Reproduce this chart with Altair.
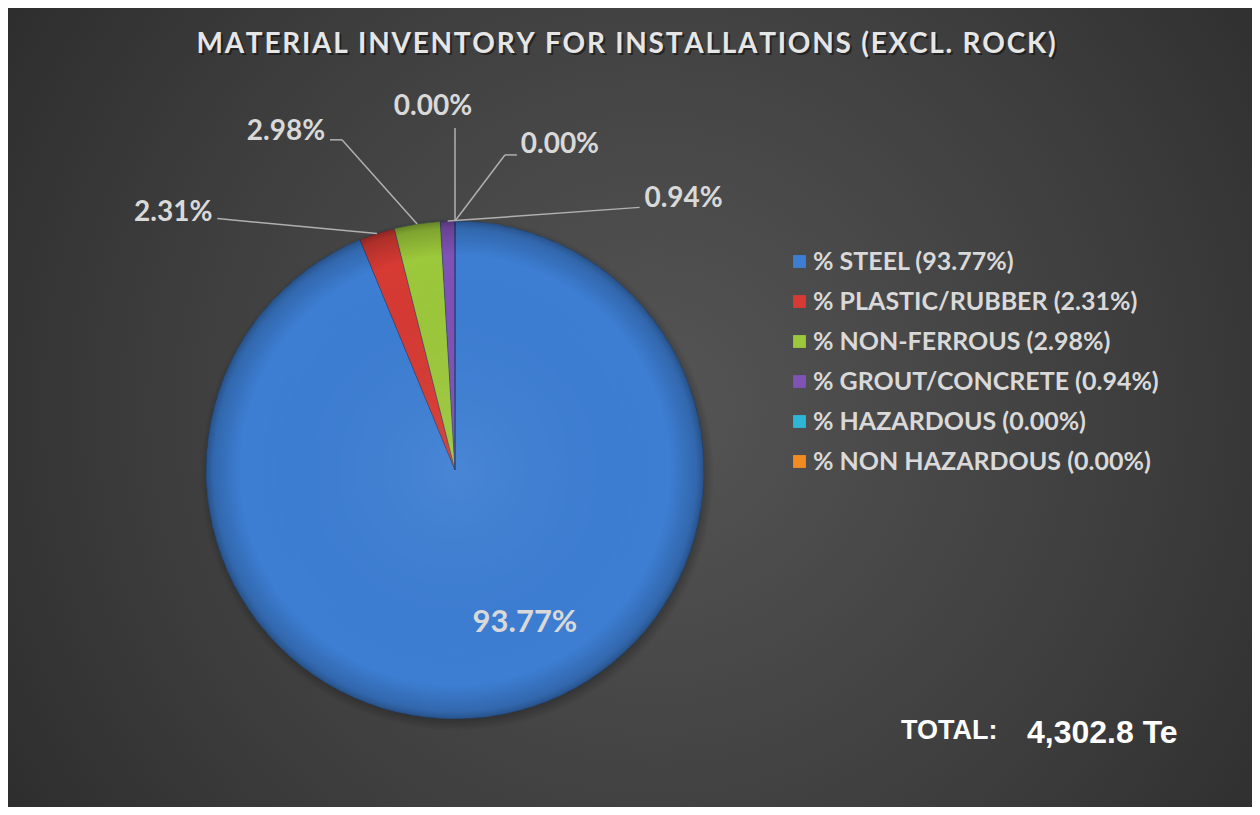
import altair as alt
import pandas as pd

# ---------------- data ----------------
categories = ["% STEEL", "% PLASTIC/RUBBER", "% NON-FERROUS", "% GROUT/CONCRETE", "% HAZARDOUS", "% NON HAZARDOUS"]
percentages = [93.77, 2.31, 2.98, 0.94, 0.00, 0.00]
total_tonnes = 4302.8
title_text = "MATERIAL INVENTORY FOR INSTALLATIONS (EXCL. ROCK)"

# ---------------- style / layout ----------------
slice_colors = ["#3d7ed3", "#d63a33", "#9cc83b", "#7f52b5", "#2db6d6", "#f28c22"]
W, H = 1244, 799
CX, CY, R = 447, 462, 249
# label placement (polar, degrees clockwise from 12 o'clock) - Excel style spread
label_angle = [155.4, -43.4, -18.9, 35.1, 0.0, 9.0]
label_radius = [168, 346, 349, 321, 342, 319]
label_stub = [0, 0, -12, 0, 0, 12]
label_tdx = [0, -44, -44, 44, -22, 43]
label_tdy = [0, -6, -8, -8, -21, -10]
label_line = [False, True, True, True, True, True]

LABEL_FONT = "Lato"
TXT = "#d9d9d9"

# letter-spaced title (hair spaces between glyphs, like the spaced heading in the original)
spaced_title = "\u200a".join(title_text)

legend_labels = [f"{c} ({v:.2f}%)" for c, v in zip(categories, percentages)]

df = pd.DataFrame({
    "idx": list(range(len(categories))),
    "category": categories,
    "value": percentages,
    "legend_label": legend_labels,
    "la": label_angle,
    "lr": label_radius,
    "stub": label_stub,
    "tdx": label_tdx,
    "tdy": label_tdy,
    "line": label_line,
})

one = pd.DataFrame({"total": [total_tonnes]})

# ---------------- background ----------------
bg = alt.Chart(one).mark_rect(
    fill={"gradient": "radial",
          "stops": [{"offset": 0, "color": "#555555"},
                    {"offset": 0.55, "color": "#3d3d3d"},
                    {"offset": 1, "color": "#262626"}],
          "x1": 0.52, "y1": 0.5, "x2": 0.52, "y2": 0.5, "r1": 0, "r2": 0.72}
).encode(x=alt.value(0), x2=alt.value(W), y=alt.value(0), y2=alt.value(H))

title_shadow = alt.Chart(one).mark_text(
    text=spaced_title, font="Lato", fontSize=28, fontWeight="bold", color="#111111", opacity=0.6,
    align="center", baseline="alphabetic"
).encode(x=alt.value(W / 2 - 2), y=alt.value(47))
title = alt.Chart(one).mark_text(
    text=spaced_title, font="Lato", fontSize=28, fontWeight="bold", color="#e6e6e6",
    align="center", baseline="alphabetic"
).encode(x=alt.value(W / 2 - 4), y=alt.value(45))

# ---------------- pie ----------------
shadow = alt.Chart(one).mark_arc(
    theta=0, theta2=6.2832, radius=R + 8,
    fill={"gradient": "radial",
          "stops": [{"offset": 0.9, "color": "rgba(0,0,0,0.55)"},
                    {"offset": 1, "color": "rgba(0,0,0,0)"}],
          "x1": 0.5, "y1": 0.5, "x2": 0.5, "y2": 0.5, "r1": 0, "r2": 0.5}
).encode(x=alt.value(CX + 2), y=alt.value(CY + 4))

pie = alt.Chart(df).mark_arc(radius=R, stroke="#1e3f70", strokeWidth=0.6, strokeOpacity=0.6).encode(
    theta=alt.Theta("value:Q", stack=True),
    order=alt.Order("idx:Q", sort="ascending"),
    color=alt.Color(
        "legend_label:N",
        scale=alt.Scale(domain=legend_labels, range=slice_colors),
        sort=legend_labels,
        legend=alt.Legend(
            title=None, orient="none", legendX=779, legendY=241,
            symbolType="square", symbolSize=165, symbolStrokeWidth=0,
            labelFont=LABEL_FONT, labelFontSize=25, labelFontWeight="bold", labelColor=TXT,
            labelOffset=1, rowPadding=14, labelLimit=600,
        ),
    ),
    x=alt.value(CX), y=alt.value(CY),
)

bevel = alt.Chart(one).mark_arc(
    theta=0, theta2=6.2832, radius=R,
    fill={"gradient": "radial",
          "stops": [{"offset": 0, "color": "rgba(255,255,255,0.06)"},
                    {"offset": 0.86, "color": "rgba(0,0,0,0)"},
                    {"offset": 0.97, "color": "rgba(0,0,0,0.18)"},
                    {"offset": 1, "color": "rgba(0,0,0,0.35)"}],
          "x1": 0.5, "y1": 0.5, "x2": 0.5, "y2": 0.5, "r1": 0, "r2": 0.5}
).encode(x=alt.value(CX), y=alt.value(CY))

# ---------------- labels ----------------
base = alt.Chart(df).transform_window(
    cum_end="sum(value)", sort=[alt.SortField("idx", order="ascending")], frame=[None, 0]
).transform_calculate(
    mid="(datum.cum_end - datum.value / 2) / 100 * 2 * PI",
    ex=f"{CX} + {R} * sin(datum.mid)",
    ey=f"{CY} - {R} * cos(datum.mid)",
    lx=f"{CX} + datum.lr * sin(datum.la * PI / 180)",
    ly=f"{CY} - datum.lr * cos(datum.la * PI / 180)",
    sx="datum.lx + datum.stub",
    tx="datum.sx + datum.tdx",
    ty="datum.ly + datum.tdy",
    lbl="format(datum.value, '.2f') + '%'",
)

leader = base.transform_filter("datum.line").mark_rule(color="#b0b0b0", strokeWidth=1.5).encode(
    x=alt.X("ex:Q", scale=None), y=alt.Y("ey:Q", scale=None), x2="lx:Q", y2="ly:Q"
)
stub = base.transform_filter("datum.line && datum.stub != 0").mark_rule(color="#b0b0b0", strokeWidth=1.5).encode(
    x=alt.X("lx:Q", scale=None), y=alt.Y("ly:Q", scale=None), x2="sx:Q", y2="ly:Q"
)
labels = base.mark_text(font=LABEL_FONT, fontWeight="bold", color=TXT, align="center", baseline="middle").encode(
    x=alt.X("tx:Q", scale=None), y=alt.Y("ty:Q", scale=None), text="lbl:N",
    size=alt.condition("datum.idx == 0", alt.value(31), alt.value(28)),
)

# ---------------- total ----------------
total_lbl = alt.Chart(one).mark_text(
    text="TOTAL:", font="Liberation Sans", fontSize=27, fontWeight="bold", color="#ffffff",
    align="left", baseline="alphabetic"
).encode(x=alt.value(893), y=alt.value(731))
total_val = alt.Chart(one).transform_calculate(
    t="format(datum.total, ',.1f') + ' Te'"
).mark_text(font="Liberation Sans", fontSize=32, fontWeight="bold", color="#ffffff",
            align="left", baseline="alphabetic").encode(
    x=alt.value(1019), y=alt.value(735), text="t:N"
)

chart = alt.layer(
    bg, title_shadow, title, shadow, pie, bevel, leader, stub, labels, total_lbl, total_val
).properties(
    width=W, height=H, autosize=alt.AutoSizeParams(type="none"), padding=0
).configure_view(stroke=None).configure(background="#2a2a2a")

chart.save("out.html", embed_options={"renderer": "svg", "actions": False})
